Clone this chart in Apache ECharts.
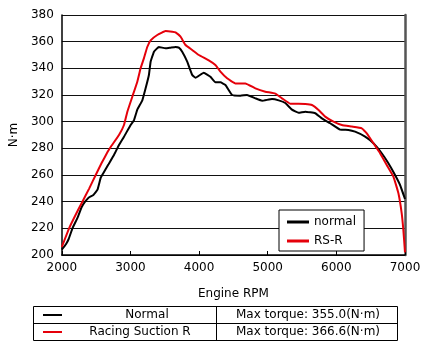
<!DOCTYPE html>
<html>
<head>
<meta charset="utf-8">
<script src="https://cdn.jsdelivr.net/npm/echarts@6/dist/echarts.min.js"></script>
<style>
html,body{margin:0;padding:0;background:#fff;}
#c{width:430px;height:355px;}
</style>
</head>
<body>
<div id="c"></div>
<script>
// Data (RPM, N·m)
const normalRpm = [2000,2060,2100,2155,2230,2290,2339,2390,2460,2520,2567,2600,2680,2760,2833,2906,3003,3051,3100,3173,3221,3269,3294,3343,3414,3512,3584,3657,3705,3754,3827,3900,3948,4068,4165,4238,4311,4384,4481,4602,4699,4820,4917,5063,5160,5256,5353,5450,5547,5692,5789,5910,6055,6176,6273,6419,6540,6661,6758,6855,6928,7000];
const normalNm  = [204,208,212,220,228,236,240,243,245,249,258,261,268,275,282.5,288.7,297.5,301,309,316,325,335,345,352.5,356,355,355.5,356,355.5,352.5,345,335,333,336.7,333.7,329.5,329.5,327.5,320,319.5,320,317.5,315.7,317,316,314,309,306.7,307.5,306.3,302.5,298.8,294,293.8,292.5,288.8,283.8,276.3,268.8,260,252.5,242];
const rsrRpm = [2000,2106,2200,2300,2400,2494,2580,2664,2712,2833,2906,2955,3027,3100,3148,3196,3245,3294,3391,3512,3609,3657,3730,3802,3900,3996,4141,4238,4311,4408,4529,4674,4820,4965,5110,5208,5328,5450,5547,5644,5740,5837,5958,6080,6225,6370,6443,6540,6637,6734,6831,6904,6952,6976,7000];
const rsrNm  = [206,220,230,240,250,260,269,277,281,290,297.5,307.5,318.7,330,340,347.5,356,361,365,368,367.5,367,363.7,357.5,353.8,350,346,342.5,337.5,332.5,328.7,328.7,325,322.5,321,317.5,313.5,313.5,313.3,312.5,308.8,303.8,300,297.5,296.3,295,291.3,283.8,276.3,267.5,258.8,246.3,231.3,218.8,202];
const yTicks = [200,220,240,260,280,300,320,340,360,380];
const xTicks = [2000,3000,4000,5000,6000,7000];
const seriesNames = ['normal','RS-R'];
const tableNames = ['Normal','Racing Suction R'];
const tableMax = ['Max torque: 355.0(N·m)','Max torque: 366.6(N·m)'];

const FONT = 'DejaVu Sans';
const RED = '#e5000a';
const chart = echarts.init(document.getElementById('c'), null, {renderer:'canvas'});

const zip = (a,b) => a.map((v,i)=>[v,b[i]]);

chart.setOption({
  animation:false,
  backgroundColor:'#fff',
  textStyle:{fontFamily:FONT},
  grid:{left:61,right:25,top:15,bottom:100,containLabel:false},
  xAxis:{
    type:'value', min:xTicks[0], max:xTicks[xTicks.length-1], interval:1000,
    name:'Engine RPM', nameLocation:'middle', nameGap:33,
    nameTextStyle:{color:'#000',fontSize:12,fontFamily:FONT},
    axisLine:{show:true,onZero:false,lineStyle:{color:'#000',width:1.5}},
    axisTick:{show:true,inside:true,length:4,lineStyle:{color:'#000'}},
    axisLabel:{color:'#000',fontSize:12,margin:7,fontFamily:FONT,formatter:v=>String(v)},
    splitLine:{show:false}
  },
  yAxis:[{
    type:'value', min:yTicks[0], max:yTicks[yTicks.length-1], interval:20,
    name:'N·m', nameLocation:'middle', nameGap:36, nameRotate:90,
    nameTextStyle:{color:'#000',fontSize:12,fontFamily:FONT},
    axisLine:{show:true,onZero:false,lineStyle:{color:'#000',width:1.5}},
    axisTick:{show:false},
    axisLabel:{color:'#000',fontSize:12,margin:8,fontFamily:FONT,formatter:v=>String(v)},
    splitLine:{show:true,lineStyle:{color:'#111',width:1}}
  },{
    type:'value', position:'right', min:yTicks[0], max:yTicks[yTicks.length-1], interval:20,
    axisLine:{show:true,onZero:false,lineStyle:{color:'#555',width:2.5}},
    axisTick:{show:false}, axisLabel:{show:false}, splitLine:{show:false}
  }],
  legend:{
    orient:'vertical', left:279, top:210, width:85,
    data:seriesNames.map(n=>({name:n,icon:'rect'})),
    itemWidth:22, itemHeight:3, itemGap:7,
    padding:[6,8,4,8],
    backgroundColor:'#fff', borderColor:'#000', borderWidth:1, borderRadius:0,
    textStyle:{color:'#000',fontSize:12,fontFamily:FONT}
  },
  series:[
    {name:seriesNames[0], type:'line', data:zip(normalRpm,normalNm), showSymbol:false, symbol:'none',
     smooth:0.1, lineStyle:{color:'#000',width:2}, itemStyle:{color:'#000'}},
    {name:seriesNames[1], type:'line', data:zip(rsrRpm,rsrNm), showSymbol:false, symbol:'none',
     smooth:0.1, lineStyle:{color:RED,width:2}, itemStyle:{color:RED}}
  ],
  graphic:[
    {type:'rect', shape:{x:33.5,y:306.5,width:364,height:34}, style:{fill:'#fff',stroke:'#000',lineWidth:1}},
    {type:'line', shape:{x1:33.5,y1:323.5,x2:397.5,y2:323.5}, style:{stroke:'#000',lineWidth:1}},
    {type:'line', shape:{x1:216.5,y1:306.5,x2:216.5,y2:340.5}, style:{stroke:'#000',lineWidth:1}},
    {type:'line', shape:{x1:43,y1:315,x2:62,y2:315}, style:{stroke:'#000',lineWidth:2}},
    {type:'line', shape:{x1:43,y1:332,x2:62,y2:332}, style:{stroke:RED,lineWidth:2}},
    {type:'text', x:147, y:315, style:{text:tableNames[0],fill:'#000',font:'12px "DejaVu Sans"',textAlign:'center',textVerticalAlign:'middle'}},
    {type:'text', x:140, y:332, style:{text:tableNames[1],fill:'#000',font:'12px "DejaVu Sans"',textAlign:'center',textVerticalAlign:'middle'}},
    {type:'text', x:308, y:315, style:{text:tableMax[0],fill:'#000',font:'12px "DejaVu Sans"',textAlign:'center',textVerticalAlign:'middle'}},
    {type:'text', x:308, y:332, style:{text:tableMax[1],fill:'#000',font:'12px "DejaVu Sans"',textAlign:'center',textVerticalAlign:'middle'}}
  ]
});
</script>
</body>
</html>
